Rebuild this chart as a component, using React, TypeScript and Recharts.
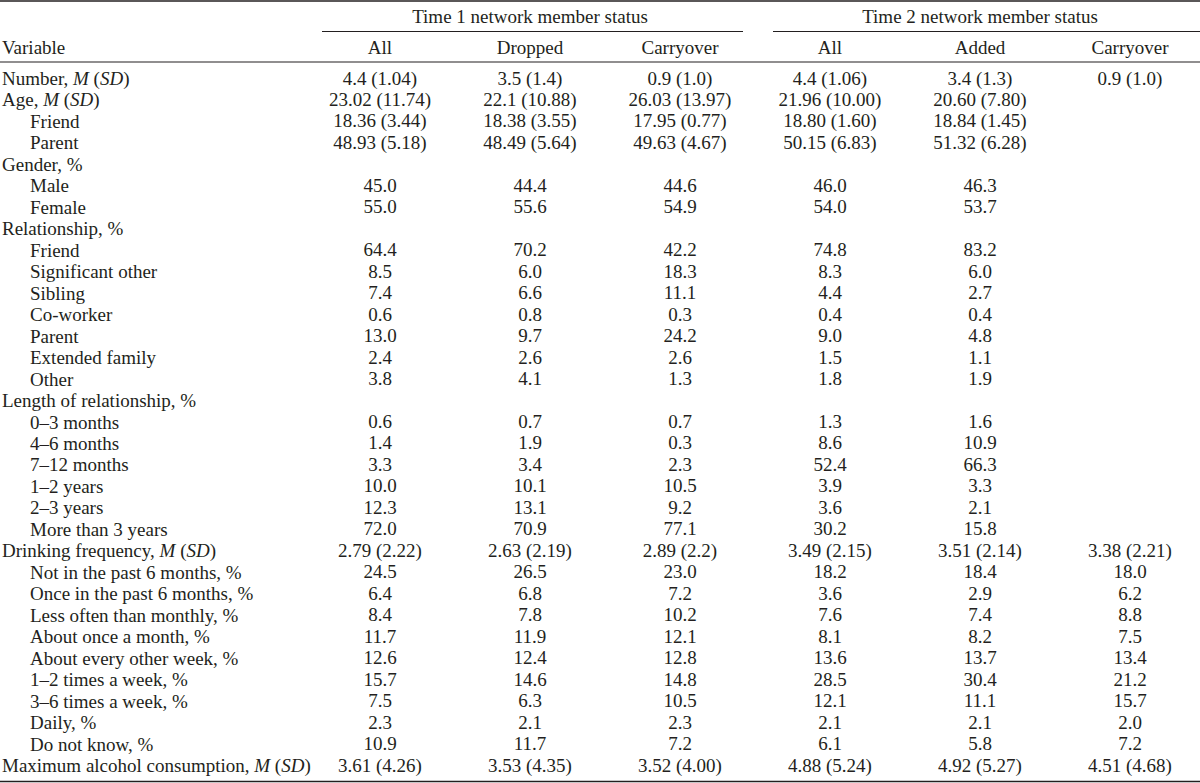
import React from 'react';
import { ScatterChart, Scatter, XAxis, YAxis, ReferenceLine } from 'recharts';

// row labels; "*" marks italic runs
const rowLabels = [
  'Number, *M* (*SD*)', 'Age, *M* (*SD*)', 'Friend', 'Parent',
  'Gender, %', 'Male', 'Female',
  'Relationship, %', 'Friend', 'Significant other', 'Sibling', 'Co-worker', 'Parent', 'Extended family', 'Other',
  'Length of relationship, %', '0–3 months', '4–6 months', '7–12 months', '1–2 years', '2–3 years', 'More than 3 years',
  'Drinking frequency, *M* (*SD*)', 'Not in the past 6 months, %', 'Once in the past 6 months, %', 'Less often than monthly, %',
  'About once a month, %', 'About every other week, %', '1–2 times a week, %', '3–6 times a week, %', 'Daily, %', 'Do not know, %',
  'Maximum alcohol consumption, *M* (*SD*)',
];
// 1 = sub-row under the row above
const rowIndent = [
  0, 0, 1, 1,
  0, 1, 1,
  0, 1, 1, 1, 1, 1, 1, 1,
  0, 1, 1, 1, 1, 1, 1,
  0, 1, 1, 1, 1, 1, 1, 1, 1, 1,
  0,
];

const columnNames = ['All', 'Dropped', 'Carryover', 'All', 'Added', 'Carryover'];
const groupNames = ['Time 1 network member status', 'Time 2 network member status'];

const t1All = [
  '4.4 (1.04)', '23.02 (11.74)', '18.36 (3.44)', '48.93 (5.18)',
  '', '45.0', '55.0',
  '', '64.4', '8.5', '7.4', '0.6', '13.0', '2.4', '3.8',
  '', '0.6', '1.4', '3.3', '10.0', '12.3', '72.0',
  '2.79 (2.22)', '24.5', '6.4', '8.4', '11.7', '12.6', '15.7', '7.5', '2.3', '10.9',
  '3.61 (4.26)',
];
const t1Dropped = [
  '3.5 (1.4)', '22.1 (10.88)', '18.38 (3.55)', '48.49 (5.64)',
  '', '44.4', '55.6',
  '', '70.2', '6.0', '6.6', '0.8', '9.7', '2.6', '4.1',
  '', '0.7', '1.9', '3.4', '10.1', '13.1', '70.9',
  '2.63 (2.19)', '26.5', '6.8', '7.8', '11.9', '12.4', '14.6', '6.3', '2.1', '11.7',
  '3.53 (4.35)',
];
const t1Carryover = [
  '0.9 (1.0)', '26.03 (13.97)', '17.95 (0.77)', '49.63 (4.67)',
  '', '44.6', '54.9',
  '', '42.2', '18.3', '11.1', '0.3', '24.2', '2.6', '1.3',
  '', '0.7', '0.3', '2.3', '10.5', '9.2', '77.1',
  '2.89 (2.2)', '23.0', '7.2', '10.2', '12.1', '12.8', '14.8', '10.5', '2.3', '7.2',
  '3.52 (4.00)',
];
const t2All = [
  '4.4 (1.06)', '21.96 (10.00)', '18.80 (1.60)', '50.15 (6.83)',
  '', '46.0', '54.0',
  '', '74.8', '8.3', '4.4', '0.4', '9.0', '1.5', '1.8',
  '', '1.3', '8.6', '52.4', '3.9', '3.6', '30.2',
  '3.49 (2.15)', '18.2', '3.6', '7.6', '8.1', '13.6', '28.5', '12.1', '2.1', '6.1',
  '4.88 (5.24)',
];
const t2Added = [
  '3.4 (1.3)', '20.60 (7.80)', '18.84 (1.45)', '51.32 (6.28)',
  '', '46.3', '53.7',
  '', '83.2', '6.0', '2.7', '0.4', '4.8', '1.1', '1.9',
  '', '1.6', '10.9', '66.3', '3.3', '2.1', '15.8',
  '3.51 (2.14)', '18.4', '2.9', '7.4', '8.2', '13.7', '30.4', '11.1', '2.1', '5.8',
  '4.92 (5.27)',
];
const t2Carryover = [
  '0.9 (1.0)', '', '', '',
  '', '', '',
  '', '', '', '', '', '', '', '',
  '', '', '', '', '', '', '',
  '3.38 (2.21)', '18.0', '6.2', '8.8', '7.5', '13.4', '21.2', '15.7', '2.0', '7.2',
  '4.51 (4.68)',
];

const columns = [t1All, t1Dropped, t1Carryover, t2All, t2Added, t2Carryover];

// layout
const W = 1200;
const H = 783;
const FONT = '"Liberation Serif", "Times New Roman", serif';
const FS = 19;
const INK = '#231f20';
const ROW_PX = 21.47;
const FIRST_ROW_Y = 78;
const COL_PX = 150;
const FIRST_COL_X = 380;
const LABEL_X = 2;
const INDENT_PX = 28;
const pyRow = (py: number) => (py - FIRST_ROW_Y) / ROW_PX;
const pxCol = (px: number) => (px - FIRST_COL_X) / COL_PX;

const HEADER_ROW = pyRow(47);
const GROUP_ROW = pyRow(16);

const cells = columns.flatMap((vals, ci) =>
  vals.map((text, r) => ({ col: ci, row: r, text })).filter((d) => d.text !== '')
);
const headerCells = columnNames.map((text, ci) => ({ col: ci, row: HEADER_ROW, text }));
const groupCells = groupNames.map((text, gi) => ({ col: 1 + gi * 3, row: GROUP_ROW, text }));
const labelCells = [
  { col: pxCol(LABEL_X), row: HEADER_ROW, text: 'Variable' },
  ...rowLabels.map((text, r) => ({ col: pxCol(LABEL_X + rowIndent[r] * INDENT_PX), row: r, text })),
];

const renderRich = (label: string) =>
  label.split('*').map((part, i) => (
    <tspan key={i} fontStyle={i % 2 === 1 ? 'italic' : 'normal'}>{part}</tspan>
  ));

const CellText = (props: any) => (
  <text x={props.cx} y={props.cy} textAnchor="middle" dominantBaseline="central"
    fontFamily={FONT} fontSize={FS} fill={INK}>
    {props.payload.text}
  </text>
);

const LabelText = (props: any) => (
  <text x={props.cx} y={props.cy} textAnchor="start" dominantBaseline="central"
    fontFamily={FONT} fontSize={FS} fill={INK}>
    {renderRich(props.payload.text)}
  </text>
);

const rules = [
  { y: pyRow(1), x1: pxCol(0), x2: pxCol(W), w: 1.6 },
  { y: pyRow(31.5), x1: pxCol(322), x2: pxCol(743), w: 1.1 },
  { y: pyRow(31.5), x1: pxCol(773), x2: pxCol(W), w: 1.1 },
  { y: pyRow(62), x1: pxCol(0), x2: pxCol(W), w: 1.1 },
  { y: pyRow(781.5), x1: pxCol(0), x2: pxCol(W), w: 1.6 },
];

export default function App() {
  return (
    <div style={{ position: 'absolute', left: 0, top: 0, width: W, height: H, background: '#fff' }}>
      <ScatterChart width={W} height={H} margin={{ top: 0, right: 0, bottom: 0, left: 0 }}>
        <XAxis type="number" dataKey="col" hide domain={[pxCol(0), pxCol(W)]} allowDataOverflow />
        <YAxis type="number" dataKey="row" hide reversed domain={[pyRow(0), pyRow(H)]} allowDataOverflow />
        {rules.map((r, i) => (
          <ReferenceLine key={i} ifOverflow="visible" stroke={INK} strokeWidth={r.w}
            segment={[{ x: r.x1, y: r.y }, { x: r.x2, y: r.y }]} />
        ))}
        <Scatter data={groupCells} shape={<CellText />} isAnimationActive={false} />
        <Scatter data={headerCells} shape={<CellText />} isAnimationActive={false} />
        <Scatter data={labelCells} shape={<LabelText />} isAnimationActive={false} />
        <Scatter data={cells} shape={<CellText />} isAnimationActive={false} />
      </ScatterChart>
    </div>
  );
}
